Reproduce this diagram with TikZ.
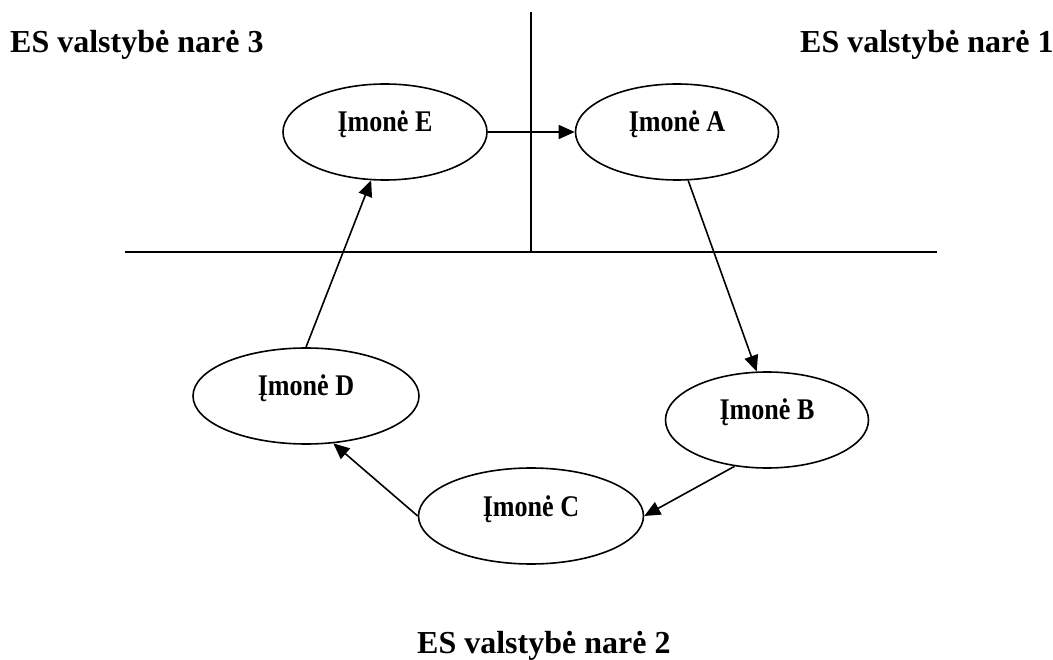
\documentclass[tikz,border=0pt]{standalone}
\usepackage{fontspec}
\setmainfont{Liberation Serif}
\newfontfamily\firmfont[FakeStretch=0.87]{Liberation Serif}
\usetikzlibrary{shapes.geometric,arrows.meta}
\tikzset{
  firm/.style={ellipse, draw, line width=1.6pt, inner sep=0pt,
    minimum height=96pt, font=\firmfont\bfseries\fontsize{30}{34}\selectfont,
    text height=20pt, text depth=20pt},
  flow/.style={line width=1.6pt, -{Triangle[length=16pt,width=14pt]}},
  border/.style={line width=1.6pt},
  region/.style={font=\bfseries\fontsize{32}{38}\selectfont, inner sep=0pt}
}
\begin{document}
\begin{tikzpicture}[x=1pt,y=-1pt]
\useasboundingbox (0,0) rectangle (1053,660);
\coordinate (vtop) at (531,12);
\coordinate (vbot) at (531,252);
\coordinate (hl) at (125,252);
\coordinate (hr) at (937,252);
\draw[border] (vtop) -- (vbot);
\draw[border] (hl) -- (hr);
\node[region, anchor=base west] (m3) at (10,53) {ES valstybė narė 3};
\node[region, anchor=base west] (m1) at (800,53) {ES valstybė narė 1};
\node[region, anchor=base west] (m2) at (417,653) {ES valstybė narė 2};
\node[firm, minimum width=204pt] (E) at (385,132) {Įmonė E};
\node[firm, minimum width=203pt] (A) at (677,132) {Įmonė A};
\node[firm, minimum width=203pt] (B) at (767,420) {Įmonė B};
\node[firm, minimum width=225pt] (C) at (531,516) {Įmonė C};
\node[firm, minimum width=226pt] (D) at (306,396) {Įmonė D};
\draw[flow] (E.east) -- (A.west);
\draw[flow] (A.-77) -- (B.102);
\draw[flow] (B.-125) -- (C.east);
\draw[flow] (C.west) -- (D.-60);
\draw[flow] (D.north) -- (E.-106);
\end{tikzpicture}
\end{document}
